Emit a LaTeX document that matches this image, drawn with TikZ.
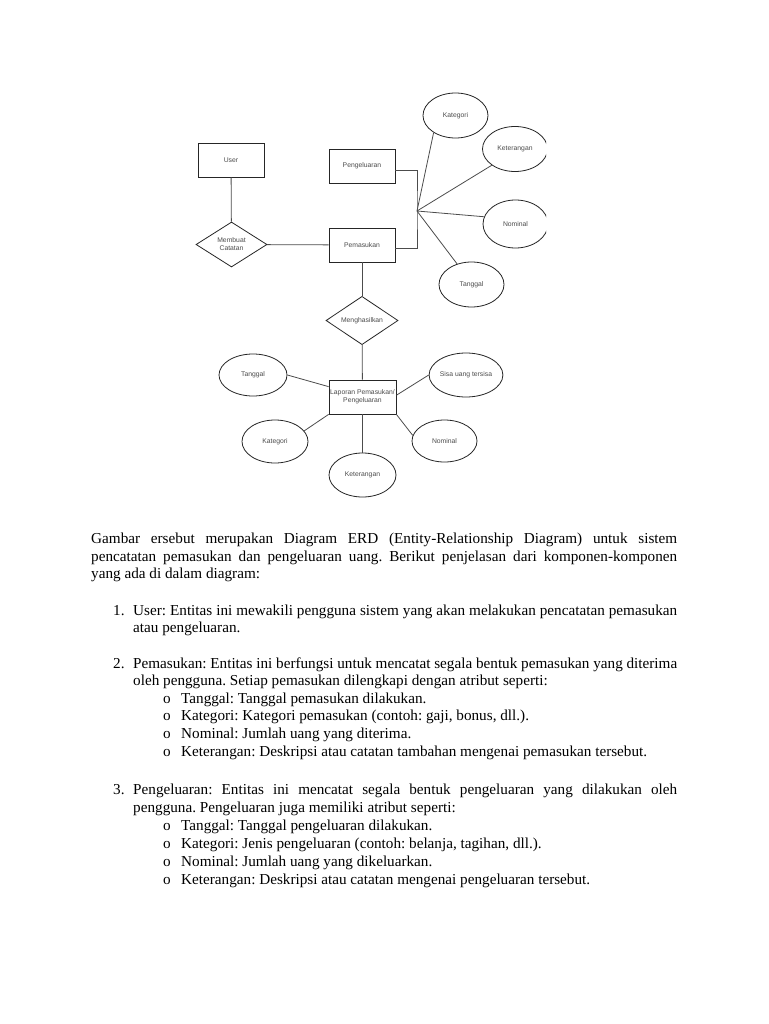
\documentclass[tikz,border=0pt]{standalone}
\usepackage{fontspec}
\setmainfont{Liberation Serif}
\newfontfamily\erdfont{Liberation Sans}
\usetikzlibrary{shapes.geometric,positioning,calc}
\definecolor{erdline}{gray}{0.3}
\definecolor{erdtext}{gray}{0.3}
\frenchspacing
\begin{document}
\begin{tikzpicture}[x=1pt,y=-1pt,
        entity/.style={draw=black!85,line width=0.8pt,rectangle,minimum width=66pt,minimum height=34pt,inner sep=1pt,
            font=\erdfont\fontsize{6.8}{8}\selectfont,text=erdtext,align=center},
        relation/.style={entity,diamond,minimum width=72pt,minimum height=45pt,inner sep=0pt},
        attribute/.style={entity,ellipse,minimum width=65pt,minimum height=45pt,inner sep=0pt},
        link/.style={draw=erdline,line width=0.8pt},
        textline/.style={anchor=base west,inner sep=0pt,font=\fontsize{15.2}{17.6}\selectfont}]
                        \fill[white] (0,0) rectangle (768,1024);
                        \useasboundingbox (0,0) rectangle (768,1024);
                        \node[entity] (user) at (231,160) {User};
                        \node[entity] (pengeluaran) at (362,166) {Pengeluaran};
                        \node[entity] (pemasukan) at (362,245) {Pemasukan};
                        \node[relation,minimum width=71pt] (membuat) at (231.5,244.5) {Membuat\\Catatan};
                        \node[relation] (menghasilkan) at (362,320.5) {Menghasilkan};
                        \node[entity,minimum width=67pt] (laporan) at (362.5,397) {Laporan Pemasukan/\\Pengeluaran};
                        \coordinate (hub) at (417,211);
                        \node[attribute] (kategoriA) at (455.5,115.5) {Kategori};
                        \begin{scope}
                            \clip (0,0) rectangle (546,1024);
                            \node[attribute] (keteranganA) at (515,149) {Keterangan};
                            \node[attribute,minimum height=48pt] (nominalA) at (515.5,224) {Nominal};
                        \end{scope}
                        \node[attribute] (tanggalA) at (471.5,284.5) {Tanggal};
                        \node[attribute,minimum width=68pt,minimum height=42pt] (tanggalB) at (253,375) {Tanggal};
                        \node[attribute,minimum width=66pt,minimum height=44pt] (sisa) at (466,375) {Sisa uang tersisa};
                        \node[attribute,minimum width=66pt,minimum height=43pt] (kategoriB) at (275,441.5) {Kategori};
                        \node[attribute,minimum height=42pt] (nominalB) at (444.5,441) {Nominal};
                        \node[attribute,minimum width=67pt,minimum height=44pt] (keteranganB) at (362.5,475) {Keterangan};
                        \draw[link]
                        (user) edge (membuat)
                        (membuat) edge (pemasukan)
                        (pemasukan) edge (menghasilkan)
                        (menghasilkan) edge (laporan);
                        \draw[link] (pengeluaran.-7) -| (hub) |- (pemasukan.-5);
                        \draw[link]
                        (hub) edge (kategoriA.218)
                        (hub) edge (keteranganA.215)
                        (hub) edge (nominalA.167)
                        (hub) edge (tanggalA.125);
                        \draw[link]
                        (tanggalB.east) edge (laporan.163)
                        (sisa.west) edge (laporan.3)
                        (kategoriB.20) edge (laporan.south west)
                        (nominalB.170) edge (laporan.south east)
                        (keteranganB) edge (laporan);
                        \node[textline] (intro1) at (91,543) {\makebox[586pt][s]{Gambar ersebut merupakan Diagram ERD (Entity-Relationship Diagram) untuk sistem}};
                        \node[textline] (intro2) at (91,561) {\makebox[586pt][s]{pencatatan pemasukan dan pengeluaran uang. Berikut penjelasan dari komponen-komponen}};
                        \node[textline] (intro3) at (91,578) {yang ada di dalam diagram:};
                        \node[textline] (num1) at (113,615) {1.};
                        \node[textline] (item1a) at (133,615) {\makebox[544pt][s]{User: Entitas ini mewakili pengguna sistem yang akan melakukan pencatatan pemasukan}};
                        \node[textline] (item1b) at (133,632.5) {atau pengeluaran.};
                        \node[textline] (num2) at (113,668) {2.};
                        \node[textline] (item2a) at (133,668) {\makebox[544pt][s]{Pemasukan: Entitas ini berfungsi untuk mencatat segala bentuk pemasukan yang diterima}};
                        \node[textline] (item2b) at (133,685.6) {oleh pengguna. Setiap pemasukan dilengkapi dengan atribut seperti:};
                        \foreach \y/\t in {703.2/{Tanggal: Tanggal pemasukan dilakukan.},
                                720.8/{Kategori: Kategori pemasukan (contoh: gaji, bonus, dll.).},
                                738.4/{Nominal: Jumlah uang yang diterima.},
                                756/{Keterangan: Deskripsi atau catatan tambahan mengenai pemasukan tersebut.}}
                        {
                            \node[textline] at (163,\y) {o};
                            \node[textline] at (181,\y) {\t};
                        }
                        \node[textline] (num3) at (113,794) {3.};
                        \node[textline] (item3a) at (133,794) {\makebox[544pt][s]{Pengeluaran: Entitas ini mencatat segala bentuk pengeluaran yang dilakukan oleh}};
                        \node[textline] (item3b) at (133,812) {pengguna. Pengeluaran juga memiliki atribut seperti:};
                        \foreach \y/\t in {830/{Tanggal: Tanggal pengeluaran dilakukan.},
                                848/{Kategori: Jenis pengeluaran (contoh: belanja, tagihan, dll.).},
                                866/{Nominal: Jumlah uang yang dikeluarkan.},
                                884/{Keterangan: Deskripsi atau catatan mengenai pengeluaran tersebut.}}
                        {
                            \node[textline] at (163,\y) {o};
                            \node[textline] at (181,\y) {\t};
                        }
                    \end{tikzpicture}
\end{document}
